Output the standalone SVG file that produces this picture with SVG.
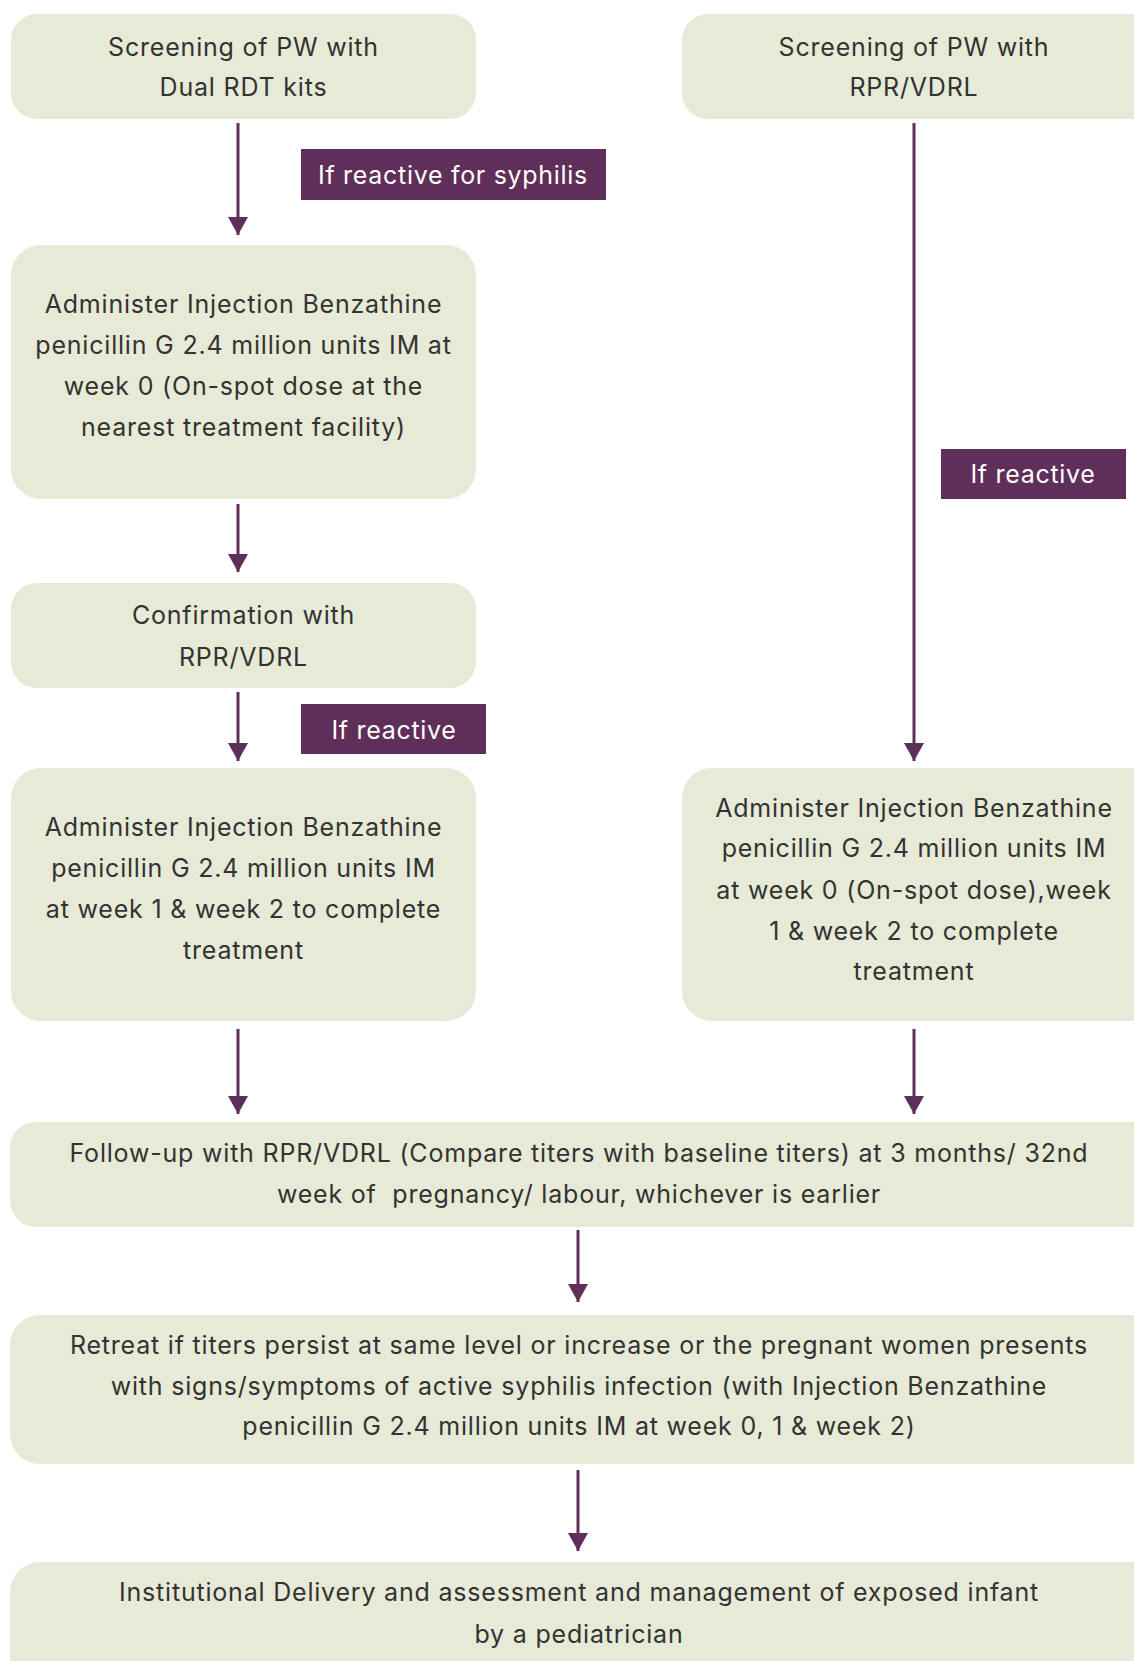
<svg xmlns="http://www.w3.org/2000/svg" width="1134" height="1661" viewBox="0 0 1134 1661">
<style>
.box{fill:#e7ead6;}
.t{font-family:Inter,"Noto Sans","Liberation Sans",sans-serif;font-size:25px;letter-spacing:0.8px;fill:#333333;text-anchor:middle;dominant-baseline:central;}
.lab{fill:#5f2e59;}
.lt{font-family:Inter,"Noto Sans","Liberation Sans",sans-serif;font-size:25px;letter-spacing:0.7px;fill:#ffffff;text-anchor:middle;dominant-baseline:central;}
.c{stroke:#5f2e59;stroke-width:3;fill:none;marker-end:url(#ah);}
</style>
<defs>
<marker id="ah" markerUnits="userSpaceOnUse" markerWidth="20" markerHeight="20" refX="18" refY="10" orient="auto" viewBox="0 0 20 20">
<path d="M0,0 L18,10 L0,20 Z" fill="#5f2e59"/>
</marker>
</defs>
<rect width="1134" height="1661" fill="#ffffff"/>
<g id="connectors">
<line class="c" x1="238" y1="123" x2="238" y2="235"/>
<line class="c" x1="238" y1="504" x2="238" y2="572"/>
<line class="c" x1="238" y1="692" x2="238" y2="761"/>
<line class="c" x1="914" y1="123" x2="914" y2="761"/>
<line class="c" x1="238" y1="1029" x2="238" y2="1114"/>
<line class="c" x1="914" y1="1029" x2="914" y2="1114"/>
<line class="c" x1="578" y1="1230" x2="578" y2="1302"/>
<line class="c" x1="578" y1="1470" x2="578" y2="1551"/>
</g>
<g id="label-reactive-syphilis">
<rect class="lab" x="301" y="149" width="305" height="51"/>
<text class="lt" x="453" y="175">If reactive for syphilis</text>
</g>
<g id="label-reactive-left">
<rect class="lab" x="301" y="704" width="185" height="50"/>
<text class="lt" x="394" y="729.5">If reactive</text>
</g>
<g id="label-reactive-right">
<rect class="lab" x="941" y="449" width="185" height="50"/>
<text class="lt" x="1033" y="474">If reactive</text>
</g>
<g id="node-screen-rdt">
<rect class="box" x="11" y="14" width="465" height="105" rx="26"/>
<text class="t" x="243.5" y="46.6">Screening of PW with</text>
<text class="t" x="243.5" y="86.8">Dual RDT kits</text>
</g>
<g id="node-screen-rpr">
<rect class="box" x="682" y="14" width="480" height="105" rx="26"/>
<text class="t" x="914" y="46.6">Screening of PW with</text>
<text class="t" x="914" y="86.8">RPR/VDRL</text>
</g>
<g id="node-admin-week0">
<rect class="box" x="11" y="245" width="465" height="254" rx="30"/>
<text class="t" x="243.5" y="304">Administer Injection Benzathine</text>
<text class="t" x="243.5" y="345">penicillin G 2.4 million units IM at</text>
<text class="t" x="243.5" y="385.5">week 0 (On-spot dose at the</text>
<text class="t" x="243.5" y="426.5">nearest treatment facility)</text>
</g>
<g id="node-confirm">
<rect class="box" x="11" y="583" width="465" height="105" rx="26"/>
<text class="t" x="243.5" y="615">Confirmation with</text>
<text class="t" x="243.5" y="656.5">RPR/VDRL</text>
</g>
<g id="node-admin-week12">
<rect class="box" x="11" y="768" width="465" height="253" rx="30"/>
<text class="t" x="243.5" y="827">Administer Injection Benzathine</text>
<text class="t" x="243.5" y="868">penicillin G 2.4 million units IM</text>
<text class="t" x="243.5" y="908.5">at week 1 &amp; week 2 to complete</text>
<text class="t" x="243.5" y="949.5">treatment</text>
</g>
<g id="node-admin-full">
<rect class="box" x="682" y="768" width="480" height="253" rx="30"/>
<text class="t" x="914" y="808">Administer Injection Benzathine</text>
<text class="t" x="914" y="848">penicillin G 2.4 million units IM</text>
<text class="t" x="914" y="889.5">at week 0 (On-spot dose),week</text>
<text class="t" x="914" y="930.5">1 &amp; week 2 to complete</text>
<text class="t" x="914" y="971">treatment</text>
</g>
<g id="node-followup">
<rect class="box" x="10" y="1122" width="1150" height="105" rx="26"/>
<text class="t" x="579" y="1153">Follow-up with RPR/VDRL (Compare titers with baseline titers) at 3 months/ 32nd</text>
<text class="t" x="579" y="1193.5" xml:space="preserve">week of  pregnancy/ labour, whichever is earlier</text>
</g>
<g id="node-retreat">
<rect class="box" x="10" y="1315" width="1150" height="149" rx="30"/>
<text class="t" x="579" y="1344.7">Retreat if titers persist at same level or increase or the pregnant women presents</text>
<text class="t" x="579" y="1386">with signs/symptoms of active syphilis infection (with Injection Benzathine</text>
<text class="t" x="579" y="1426.2">penicillin G 2.4 million units IM at week 0, 1 &amp; week 2)</text>
</g>
<g id="node-delivery">
<rect class="box" x="10" y="1562" width="1150" height="130" rx="30"/>
<text class="t" x="579" y="1592.4">Institutional Delivery and assessment and management of exposed infant</text>
<text class="t" x="579" y="1633.7">by a pediatrician</text>
</g>
</svg>
